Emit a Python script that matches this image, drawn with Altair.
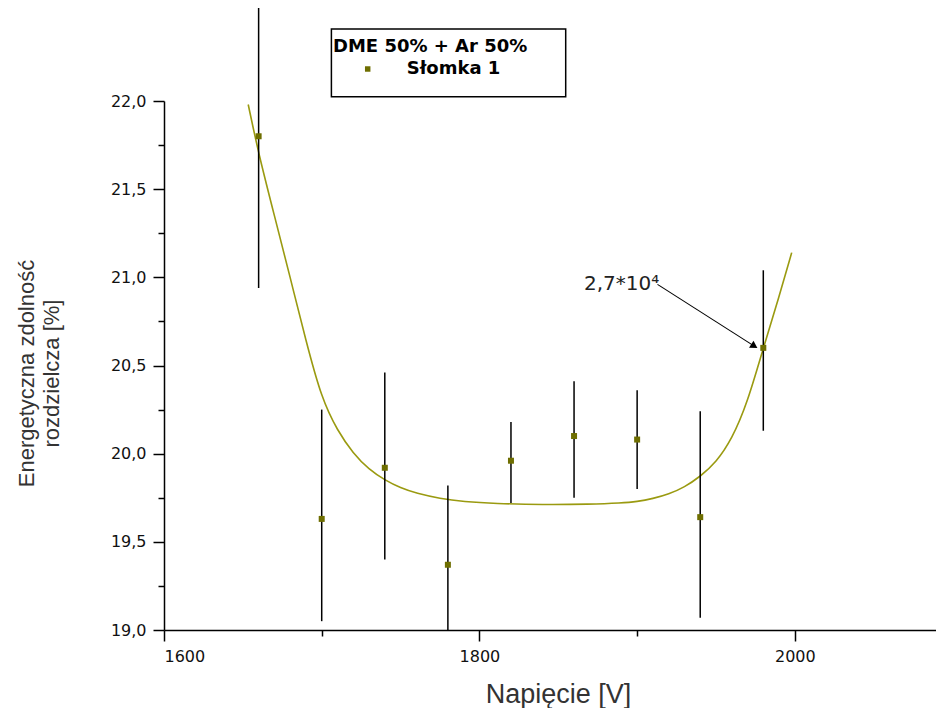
import altair as alt
import pandas as pd

# ---- data ----
voltage = [1660, 1700, 1740, 1780, 1820, 1860, 1900, 1940, 1980]
resolution = [21.80, 19.63, 19.92, 19.37, 19.96, 20.10, 20.08, 19.64, 20.60]
err_high = [22.53, 20.25, 20.46, 19.82, 20.18, 20.41, 20.36, 20.24, 21.04]
err_low = [20.94, 19.05, 19.40, 19.00, 19.72, 19.75, 19.80, 19.07, 20.13]

fit_voltage = [1653.4, 1660, 1670, 1680, 1690, 1700, 1710, 1720, 1730, 1740,
               1750, 1760, 1775, 1790, 1810, 1840, 1870, 1890, 1900, 1910,
               1920, 1930, 1940, 1950, 1960, 1970, 1980, 1990, 1998]
fit_resolution = [21.98, 21.70, 21.35, 21.00, 20.64, 20.31, 20.13, 20.00, 19.91, 19.85,
                  19.805, 19.775, 19.745, 19.728, 19.717, 19.71, 19.713, 19.72, 19.728, 19.745,
                  19.77, 19.81, 19.87, 19.95, 20.08, 20.29, 20.60, 20.89, 21.14]

series_name = ["Słomka 1"]
legend_title = ["DME 50% + Ar 50%"]

annot_text = ["2,7*10⁴"]
annot_x = [1914.0]
annot_y = [20.93]
arrow_x = [1912.9]
arrow_y = [20.96]
arrow_x2 = [1974.3]
arrow_y2 = [20.61]

x_major = [1600, 1800, 2000]
x_minor = [1700, 1900]
y_major = [19.0, 19.5, 20.0, 20.5, 21.0, 21.5, 22.0]
y_minor = [19.25, 19.75, 20.25, 20.75, 21.25, 21.75]

X_DOMAIN = [1600, 2089.5]
Y_DOMAIN = [19, 22]

# ---- tables ----
pts = pd.DataFrame({"V": voltage, "R": resolution, "hi": err_high, "lo": err_low,
                    "series": series_name * len(voltage)})
fit = pd.DataFrame({"V": fit_voltage, "R": fit_resolution})
ann = pd.DataFrame({"x": annot_x, "y": annot_y, "t": annot_text})
arr = pd.DataFrame({"x": arrow_x, "y": arrow_y, "x2": arrow_x2, "y2": arrow_y2})
leg = pd.DataFrame({"title": legend_title, "name": series_name})

OLIVE_LINE = "#9a9a10"
OLIVE_PT = "#6e6e00"

xs = alt.Scale(domain=X_DOMAIN, nice=False, zero=False)
ys = alt.Scale(domain=Y_DOMAIN, nice=False, zero=False)

common = dict(tickColor="black", tickWidth=1.5, domainColor="black", domainWidth=1.5,
              labelFont="DejaVu Sans", labelFontSize=16, labelColor="#111",
              labelPadding=7, grid=False)

x_axis = alt.Axis(
    values=x_major, format="d", tickSize=11, orient="bottom",
    title="Napięcie [V]", titleFont="Liberation Sans", titleFontSize=27,
    titleFontWeight="normal", titleColor="#333", titleX=394, titleY=72,
    titleAlign="center", titleBaseline="alphabetic", **common,
)
y_axis = alt.Axis(
    values=y_major, tickSize=11, orient="left",
    labelExpr="replace(format(datum.value, '.1f'), '.', ',')",
    title=["Energetyczna zdolność", "rozdzielcza [%]"],
    titleFont="Liberation Sans", titleFontSize=22, titleFontWeight="normal",
    titleColor="#333", titleAngle=-90, titleX=-131, titleY=272, titleAlign="center",
    titleBaseline="alphabetic", titleLineHeight=25, **common,
)
x_axis_minor = alt.Axis(values=x_minor, tickSize=6, orient="bottom", labels=False,
                        domain=False, title=None, tickColor="black", tickWidth=1.5, grid=False)
y_axis_minor = alt.Axis(values=y_minor, tickSize=6, orient="left", labels=False,
                        domain=False, title=None, tickColor="black", tickWidth=1.5, grid=False)

curve = alt.Chart(fit).mark_line(color=OLIVE_LINE, strokeWidth=1.6, interpolate="basis").encode(
    x=alt.X("V:Q", scale=xs, axis=x_axis),
    y=alt.Y("R:Q", scale=ys, axis=y_axis),
)

errs = alt.Chart(pts).mark_rule(color="black", strokeWidth=1.5).encode(
    x=alt.X("V:Q", scale=xs, axis=None),
    y=alt.Y("lo:Q", scale=ys, axis=None),
    y2="hi:Q",
)

points = alt.Chart(pts).mark_square(size=36, color=OLIVE_PT, opacity=1).encode(
    x=alt.X("V:Q", scale=xs, axis=x_axis_minor),
    y=alt.Y("R:Q", scale=ys, axis=y_axis_minor),
)

arrow_line = alt.Chart(arr).mark_rule(color="black", strokeWidth=1.1).encode(
    x=alt.X("x:Q", scale=xs, axis=None), y=alt.Y("y:Q", scale=ys, axis=None),
    x2="x2:Q", y2="y2:Q",
)
arrow_head = alt.Chart(arr).mark_point(shape="triangle-right", filled=True, color="black",
                                        size=70, angle=32.5, opacity=1).encode(
    x=alt.X("x2:Q", scale=xs, axis=None), y=alt.Y("y2:Q", scale=ys, axis=None),
)
annot = alt.Chart(ann).mark_text(align="right", baseline="alphabetic", font="DejaVu Sans",
                                  fontSize=20, color="#222").encode(
    x=alt.X("x:Q", scale=xs, axis=None), y=alt.Y("y:Q", scale=ys, axis=None), text="t:N",
)

# legend box (positions relative to the plot area's top-left corner)
leg_box = alt.Chart(leg).mark_rect(fill="white", stroke="black", strokeWidth=1.5).encode(
    x=alt.value(167.4), x2=alt.value(401.7), y=alt.value(-72), y2=alt.value(-4.3),
)
leg_title = alt.Chart(leg).mark_text(align="left", baseline="middle", font="DejaVu Sans",
                                     fontSize=18, fontWeight="bold", color="black").encode(
    x=alt.value(169), y=alt.value(-54.3), text="title:N",
)
leg_sym = alt.Chart(leg).mark_square(size=30, color=OLIVE_PT, opacity=1).encode(
    x=alt.value(203.7), y=alt.value(-32),
)
leg_label = alt.Chart(leg).mark_text(align="left", baseline="middle", font="DejaVu Sans",
                                     fontSize=18, fontWeight="bold", color="black").encode(
    x=alt.value(242.7), y=alt.value(-32), text="name:N",
)

chart = alt.layer(
    curve, errs, points, arrow_line, arrow_head, annot,
    leg_box, leg_title, leg_sym, leg_label,
).resolve_axis(x="independent", y="independent").properties(
    width=772, height=529,
    autosize=alt.AutoSizeParams(type="none"),
    padding={"left": 156, "top": 93, "right": 0, "bottom": 78},
    background="white",
).configure_view(stroke=None)

chart.save("out.html", embed_options={"renderer": "svg", "actions": False})
